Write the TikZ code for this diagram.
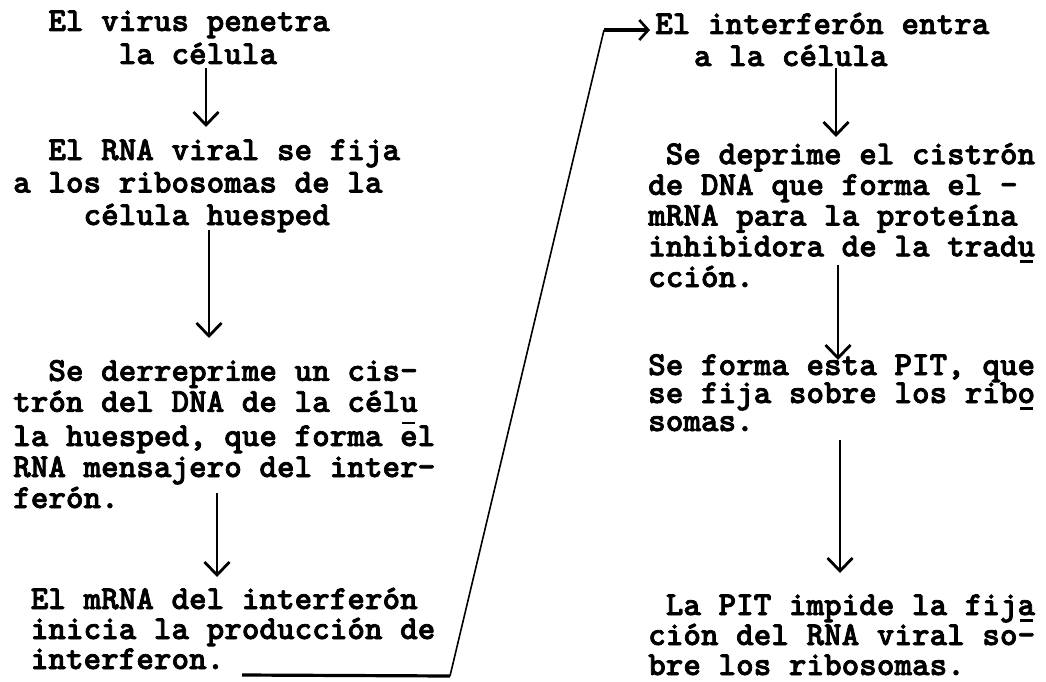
\documentclass[tikz,border=0pt]{standalone}
\usepackage{fontspec}
\newfontfamily\tw{lmmonolt10-bold.otf}[FakeBold=2.2]
\usetikzlibrary{arrows.meta}
\newlength\cw \setlength\cw{17.6pt}
\newcommand\ulc[2][6.5pt]{\rlap{\hspace*{2.3pt}\rule[-#1]{13pt}{2.5pt}}#2}
\frenchspacing
\begin{document}
\begin{tikzpicture}[x=1pt,y=-1pt,
  blk/.style={anchor=base west, inner sep=0pt, align=left,
    font=\tw\fontsize{33.5pt}{#1}\selectfont},
  arr/.style={line width=1.4pt, -{Straight Barb[length=13pt,width=25pt,line width=2.8pt]}},
  link/.style={line width=1.6pt},
  thick link/.style={line width=3.2pt}]
\useasboundingbox (0,0) rectangle (1046,682);
% left column (node base = baseline of the last line)
\node[blk=33pt] (b1) at (13,64) {\hspace*{2\cw}El virus penetra\\\hspace*{6\cw}la célula};
\node[blk=32.5pt] (b2) at (13,225) {\hspace*{2\cw}El RNA viral se fija\\a los ribosomas de la\\\hspace*{4\cw}célula huesped};
\node[blk=31pt] (b3) at (13,508) {\hspace*{2\cw}Se derreprime un cis-\\trón del DNA de la cél\ulc[12.5pt]{u}\\la huesped, que forma el\\RNA mensajero del inter-\\ferón.};
\node[blk=30pt] (b4) at (13,669) {\hspace*{1\cw}El mRNA del interferón\\\hspace*{1\cw}inicia la producción de\\\hspace*{1\cw}interferon.};
% right column
\node[blk=32pt] (r1) at (648,66) {\hspace*{0.4\cw}El interferón entra\\\hspace*{2.6\cw}a la célula};
\node[blk=30.7pt] (r2) at (648,287) {\hspace*{1\cw}Se deprime el cistrón\\de DNA que forma el -\\mRNA para la proteína\\inhibidora de la trad\ulc{u}\\cción.};
\node[blk=28pt] (r3) at (648,431) {Se forma esta PIT, que\\se fija sobre los rib\ulc{o}\\somas.};
\node[blk=30pt] (r4) at (648,675) {\hspace*{1\cw}La PIT impide la fij\ulc{a}\\ción del RNA viral so-\\bre los ribosomas.};
% connector points
\coordinate (a1s) at (206,68);  \coordinate (a1e) at (206,127);
\coordinate (a2s) at (209,230); \coordinate (a2e) at (209,338);
\coordinate (a3s) at (217,493); \coordinate (a3e) at (217,577);
\coordinate (a4s) at (836,68);  \coordinate (a4e) at (836,137);
\coordinate (a5s) at (838,265); \coordinate (a5e) at (838,360);
\coordinate (a6s) at (840,440); \coordinate (a6e) at (840,573);
\coordinate (u1) at (242,675);
\coordinate (u2) at (450,676);
\coordinate (t1) at (604,30);
\coordinate (t2) at (650,30);
\draw[arr] (a1s) -- (a1e);
\draw[arr] (a2s) -- (a2e);
\draw[arr] (a3s) -- (a3e);
\draw[arr] (a4s) -- (a4e);
\draw[arr] (a5s) -- (a5e);
\draw[arr] (a6s) -- (a6e);
\draw[thick link] (u1) -- (u2);
\draw[link] (u2) -- (t1);
\draw[thick link, -{Straight Barb[length=9pt,width=20pt,line width=2.6pt]}] (t1) -- (t2);
\end{tikzpicture}
\end{document}
